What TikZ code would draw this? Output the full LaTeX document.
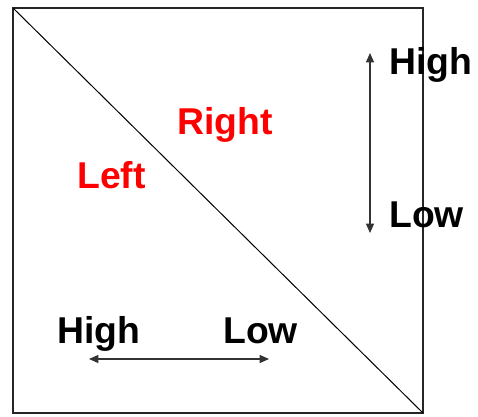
\documentclass[tikz,border=0pt]{standalone}
\usepackage{fontspec}
\setmainfont{Liberation Sans}
\usepackage{tikz}
\usetikzlibrary{arrows.meta,positioning}

\begin{document}
\begin{tikzpicture}[
    x=0.75pt, y=-0.75pt,
    every node/.style={font=\fontsize{28}{30}\selectfont\bfseries, inner sep=0pt, anchor=base west},
    side/.style={text=red},
    rangearrow/.style={draw=black!80, line width=0.9pt, {Triangle[length=7pt,width=6pt]}-{Triangle[length=7pt,width=6pt]}}
]
\useasboundingbox (0,0) rectangle (478,417);
% box and diagonal
\coordinate (tl) at (13,8);
\coordinate (br) at (423,413);
\draw[line width=0.9pt, draw=black!85] (tl) rectangle (br);
\draw[line width=0.75pt] (tl) -- (br);
% labels
\node[side] (right) at (177,135) {Right};
\node[side] (left) at (77,189) {Left};
\node (vhigh) at (389,75) {High};
\node (vlow) at (389,227) {Low};
\node (hhigh) at (57,343) {High};
\node (hlow) at (223,343) {Low};
% arrows
\coordinate (vtop) at (370,53);
\coordinate (vbot) at (370,233);
\coordinate (hleft) at (89,359);
\coordinate (hright) at (269,359);
\draw[rangearrow] (vtop) -- (vbot);
\draw[rangearrow] (hleft) -- (hright);
\end{tikzpicture}
\end{document}
